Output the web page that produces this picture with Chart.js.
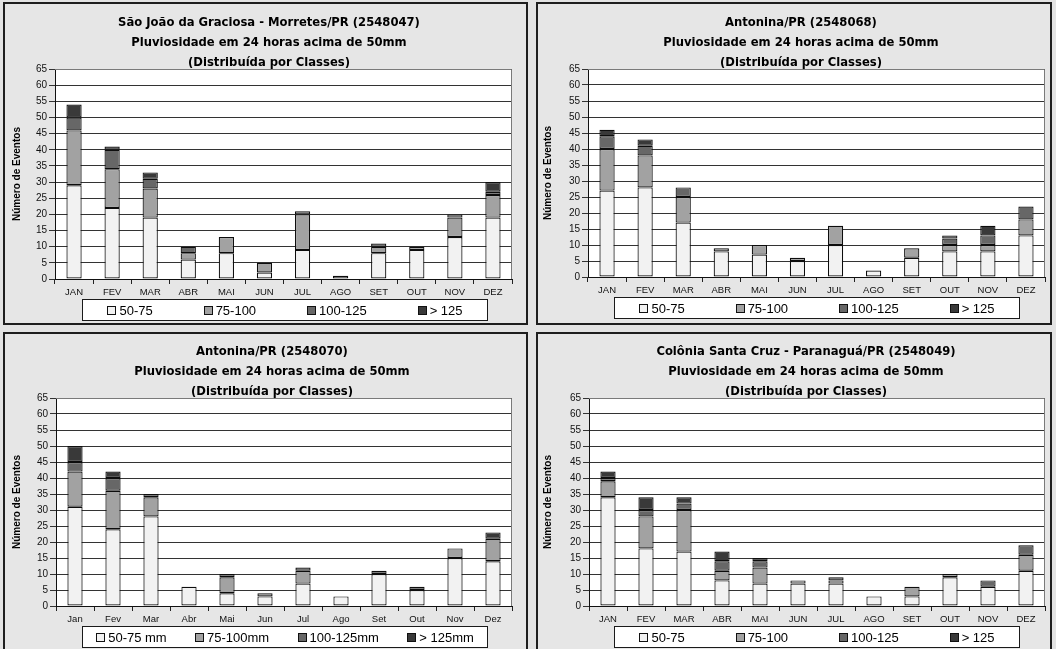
<!DOCTYPE html>
<html>
<head>
<meta charset="utf-8">
<script src="https://cdn.jsdelivr.net/npm/chart.js@4/dist/chart.umd.min.js"></script>
<style>
  html, body { margin: 0; padding: 0; width: 1056px; height: 649px; overflow: hidden; background: #e3e3e3; }
  .panel { position: absolute; box-sizing: border-box; border: 2px solid #1e1e1e; background: #e6e6e6; overflow: hidden; }
  .panel canvas { display: block; }
</style>
</head>
<body>
<div class="panel" style="left:3px;top:2px;width:525px;height:323px"><canvas id="c1" width="521" height="319"></canvas></div>
<div class="panel" style="left:536px;top:2px;width:516px;height:323px"><canvas id="c2" width="512" height="319"></canvas></div>
<div class="panel" style="left:3px;top:332px;width:525px;height:322px"><canvas id="c3" width="521" height="318"></canvas></div>
<div class="panel" style="left:536px;top:332px;width:516px;height:322px"><canvas id="c4" width="512" height="318"></canvas></div>
<script>
// Month labels
const monthsUpper = ['JAN', 'FEV', 'MAR', 'ABR', 'MAI', 'JUN', 'JUL', 'AGO', 'SET', 'OUT', 'NOV', 'DEZ'];
const monthsMixed = ['Jan', 'Fev', 'Mar', 'Abr', 'Mai', 'Jun', 'Jul', 'Ago', 'Set', 'Out', 'Nov', 'Dez'];

// Rainfall classes (mm in 24 h)
const classLabels = ['50-75', '75-100', '100-125', '> 125'];
const classLabelsMm = ['50-75 mm', '75-100mm', '100-125mm', '> 125mm'];

// Titles
const titleGraciosa = ['São João da Graciosa - Morretes/PR (2548047)', 'Pluviosidade em 24 horas acima de 50mm', '(Distribuída por Classes)'];
const titleAntonina68 = ['Antonina/PR (2548068)', 'Pluviosidade em 24 horas acima de 50mm', '(Distribuída por Classes)'];
const titleAntonina70 = ['Antonina/PR (2548070)', 'Pluviosidade em 24 horas acima de 50mm', '(Distribuída por Classes)'];
const titleColonia = ['Colônia Santa Cruz - Paranaguá/PR (2548049)', 'Pluviosidade em 24 horas acima de 50mm', '(Distribuída por Classes)'];
const yAxisTitle = 'Número de Eventos';

// Number of events per month and class — São João da Graciosa (2548047)
const graciosa50 = [29, 22, 19, 6, 8, 2, 9, 1, 8, 9, 13, 19];
const graciosa75 = [17, 12, 9, 2, 5, 3, 11, 0, 2, 1, 6, 7];
const graciosa100 = [4, 6, 3, 2, 0, 0, 1, 0, 1, 0, 1, 1];
const graciosa125 = [4, 1, 2, 0, 0, 0, 0, 0, 0, 0, 0, 3];

// Antonina (2548068)
const antonina68_50 = [27, 28, 17, 8, 7, 5, 10, 2, 6, 8, 8, 13];
const antonina68_75 = [13, 10, 8, 1, 3, 1, 6, 0, 3, 2, 2, 5];
const antonina68_100 = [4, 3, 3, 0, 0, 0, 0, 0, 0, 2, 3, 4];
const antonina68_125 = [2, 2, 0, 0, 0, 0, 0, 0, 0, 1, 3, 0];

// Antonina (2548070)
const antonina70_50 = [31, 24, 28, 6, 4, 3, 7, 3, 10, 5, 15, 14];
const antonina70_75 = [11, 12, 6, 0, 5, 1, 4, 0, 0, 0, 3, 7];
const antonina70_100 = [3, 4, 1, 0, 1, 0, 1, 0, 1, 1, 0, 0];
const antonina70_125 = [5, 2, 0, 0, 0, 0, 0, 0, 0, 0, 0, 2];

// Colônia Santa Cruz (2548049)
const colonia50 = [34, 18, 17, 8, 7, 7, 7, 3, 3, 9, 6, 11];
const colonia75 = [5, 10, 13, 3, 5, 1, 1, 0, 3, 1, 0, 5];
const colonia100 = [1, 2, 2, 3, 2, 0, 1, 0, 0, 0, 2, 3];
const colonia125 = [2, 4, 2, 3, 1, 0, 0, 0, 0, 0, 0, 0];

const classColors = ['#f2f2f2', '#a2a2a2', '#676767', '#393939'];

// White plot background + thin frame around it
const plotBackground = {
  id: 'plotBackground',
  beforeDraw(chart) {
    const { ctx, chartArea: a } = chart;
    ctx.save();
    ctx.fillStyle = '#ffffff';
    ctx.fillRect(a.left, a.top, a.right - a.left, a.bottom - a.top);
    ctx.restore();
  },
  afterDraw(chart) {
    const { ctx, chartArea: a } = chart;
    ctx.save();
    ctx.strokeStyle = '#7a7a7a';
    ctx.lineWidth = 1;
    ctx.beginPath();
    ctx.moveTo(a.left, a.top + 0.5);
    ctx.lineTo(a.right - 0.5, a.top + 0.5);
    ctx.lineTo(a.right - 0.5, a.bottom);
    ctx.stroke();
    ctx.restore();
  }
};

// Framed legend below the category axis, items spread evenly
const boxedLegend = {
  id: 'boxedLegend',
  afterDraw(chart, args, opts) {
    const { ctx, chartArea: a } = chart;
    const x0 = a.left + opts.offsetLeft;
    const y0 = a.bottom + opts.offsetTop;
    const w = opts.width, h = opts.height;
    ctx.save();
    ctx.fillStyle = '#ffffff';
    ctx.fillRect(x0, y0, w, h);
    ctx.strokeStyle = '#1a1a1a';
    ctx.lineWidth = 1;
    ctx.strokeRect(x0 + 0.5, y0 + 0.5, w - 1, h - 1);
    ctx.font = opts.fontSize + 'px "Liberation Sans", Arial, sans-serif';
    ctx.textBaseline = 'middle';
    ctx.textAlign = 'left';
    const box = 8, gap = 4;
    const datasets = chart.data.datasets;
    const widths = datasets.map(d => box + gap + ctx.measureText(d.label).width);
    const total = widths.reduce((s, v) => s + v, 0);
    const space = (w - total) / datasets.length;
    let x = x0 + space / 2;
    const cy = y0 + h / 2;
    datasets.forEach((d, i) => {
      ctx.fillStyle = d.backgroundColor;
      ctx.fillRect(Math.round(x) + 0.5, Math.round(cy - box / 2) + 0.5, box, box);
      ctx.strokeStyle = '#111';
      ctx.strokeRect(Math.round(x) + 0.5, Math.round(cy - box / 2) + 0.5, box, box);
      ctx.fillStyle = '#000';
      ctx.fillText(d.label, x + box + gap, cy + 1);
      x += widths[i] + space;
    });
    ctx.restore();
  }
};

function buildChart(id, p) {
  const canvas = document.getElementById(id);
  const W = canvas.width, H = canvas.height;
  // left layout padding chosen so the title centres where wanted
  const padL = 2 * p.titleCenter - W + p.padRight;
  const titleTop = p.plotTop - 56;
  const toBar = arr => arr.map(v => (v === 0 ? null : v));
  const datasets = p.series.map((s, i) => ({
    label: p.legend[i],
    data: toBar(s),
    backgroundColor: classColors[i],
    borderColor: '#0d0d0d',
    borderWidth: 1.2,
    borderSkipped: false,
    categoryPercentage: 1.0,
    barPercentage: 0.4
  }));
  return new Chart(canvas, {
    type: 'bar',
    data: { labels: p.labels, datasets },
    plugins: [plotBackground, boxedLegend],
    options: {
      responsive: false,
      animation: false,
      devicePixelRatio: 1,
      layout: { padding: { left: padL, right: p.padRight, top: 0, bottom: 0 } },
      plugins: {
        legend: { display: false },
        tooltip: { enabled: false },
        title: {
          display: true,
          text: p.title,
          color: '#000',
          font: { family: '"DejaVu Sans", Verdana, sans-serif', size: 11.6, weight: 'bold', lineHeight: '20px' },
          padding: { top: titleTop, bottom: p.plotTop - 60 - titleTop }
        },
        boxedLegend: { offsetLeft: p.legendLeft, offsetTop: 20, width: 406, height: 22, fontSize: 13 }
      },
      scales: {
        x: {
          stacked: true,
          offset: true,
          grid: { display: true, offset: true, drawOnChartArea: false, drawTicks: true, tickLength: 5, color: '#222', lineWidth: 1 },
          border: { display: true, color: '#111', width: 1 },
          ticks: { color: '#111', padding: 3, maxRotation: 0, autoSkip: false, font: { family: '"Liberation Sans", Arial, sans-serif', size: 9.5 } },
          afterFit: s => { s.height = H - p.plotBottom; }
        },
        y: {
          stacked: true,
          min: 0,
          max: 65,
          ticks: { stepSize: 5, color: '#111', padding: 2, font: { family: '"Liberation Sans", Arial, sans-serif', size: 10 } },
          grid: { color: '#333333', lineWidth: 1, tickLength: 6 },
          border: { display: true, color: '#111', width: 1 },
          title: {
            display: true,
            text: yAxisTitle,
            color: '#000',
            font: { family: '"Liberation Sans", Arial, sans-serif', size: 10, weight: 'bold', lineHeight: 1.2 },
            padding: { top: p.yTitleX - padL - 6, bottom: 0 }
          },
          afterFit: s => { s.width = p.plotLeft - padL; }
        }
      }
    }
  });
}

buildChart('c1', {
  title: titleGraciosa, labels: monthsUpper, legend: classLabels,
  series: [graciosa50, graciosa75, graciosa100, graciosa125],
  titleCenter: 264, padRight: 14, plotLeft: 50, plotTop: 65, plotBottom: 275, yTitleX: 12, legendLeft: 27
});
buildChart('c2', {
  title: titleAntonina68, labels: monthsUpper, legend: classLabels,
  series: [antonina68_50, antonina68_75, antonina68_100, antonina68_125],
  titleCenter: 263, padRight: 5, plotLeft: 50, plotTop: 65, plotBottom: 273, yTitleX: 10, legendLeft: 26
});
buildChart('c3', {
  title: titleAntonina70, labels: monthsMixed, legend: classLabelsMm,
  series: [antonina70_50, antonina70_75, antonina70_100, antonina70_125],
  titleCenter: 267, padRight: 14, plotLeft: 51, plotTop: 64, plotBottom: 272, yTitleX: 12, legendLeft: 26
});
buildChart('c4', {
  title: titleColonia, labels: monthsUpper, legend: classLabels,
  series: [colonia50, colonia75, colonia100, colonia125],
  titleCenter: 268, padRight: 5, plotLeft: 51, plotTop: 64, plotBottom: 272, yTitleX: 10, legendLeft: 25
});
</script>
</body>
</html>
